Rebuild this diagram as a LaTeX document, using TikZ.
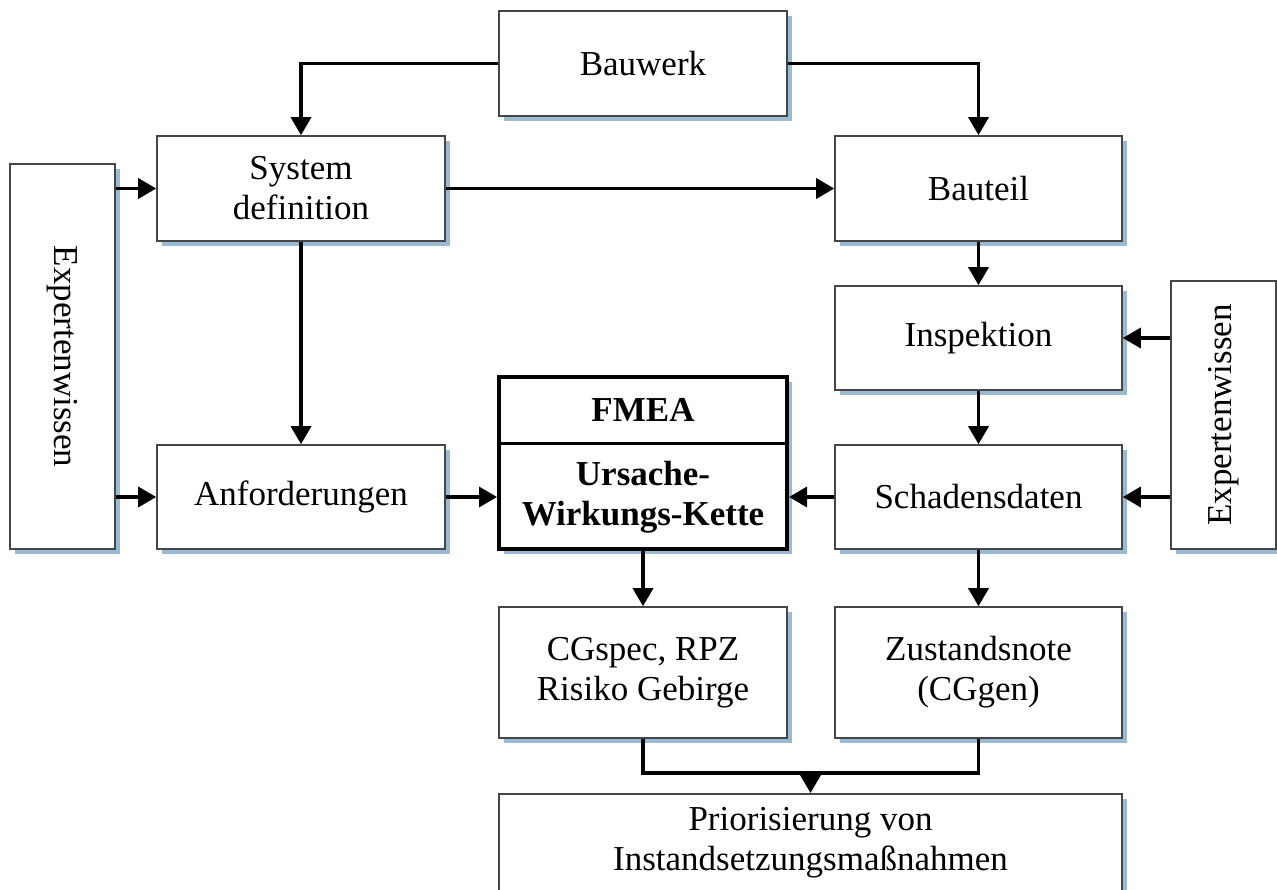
\documentclass[tikz,border=0pt]{standalone}
\usepackage{fontspec}
\setmainfont{Liberation Serif}
\usetikzlibrary{arrows.meta,shadows}
\definecolor{shadowblue}{RGB}{152,186,211}
\definecolor{boxline}{RGB}{70,70,70}
\tikzset{
  shad/.style={drop shadow={shadow xshift=5pt,shadow yshift=-5pt,fill=shadowblue,opacity=1}},
  box/.style={draw=boxline,line width=1.6pt,fill=white,shad,align=center,inner sep=0pt,
    font=\fontsize{35}{40}\selectfont},
  conn/.style={line width=3.5pt,-{Triangle[length=18pt,width=20pt]}},
  plain/.style={line width=3.5pt},
}
\begin{document}
\begin{tikzpicture}[x=1pt,y=-1pt]
\useasboundingbox (0,0) rectangle (1277,890);
\node[box,minimum width=288pt,minimum height=105pt] (bauwerk) at (643,63.5) {Bauwerk};
\node[box,minimum width=288pt,minimum height=105pt] (sysdef) at (301,188.5) {System\\definition};
\node[box,minimum width=287pt,minimum height=105pt] (bauteil) at (978.5,188.5) {Bauteil};
\node[box,minimum width=105pt,minimum height=385pt] (expL) at (62.5,356.5) {};
\node[rotate=-90,font=\fontsize{35}{40}\selectfont] (expLt) at (expL.center) {Expertenwissen};
\node[box,minimum width=287pt,minimum height=104pt] (insp) at (978.5,338) {Inspektion};
\node[box,minimum width=288pt,minimum height=104pt] (anf) at (301,497) {Anforderungen};
\node[box,draw=black,line width=4pt,minimum width=288pt,minimum height=172pt] (fmea) at (643,463) {};
\draw[line width=3pt] (fmea.west |- 0,443) coordinate (dl) -- (fmea.east |- 0,443) coordinate (dr);
\node[font=\bfseries\fontsize{35}{40}\selectfont] (fmeat) at (643,410) {FMEA};
\node[font=\bfseries\fontsize{35}{40}\selectfont,align=center] (uwk) at (643,497) {Ursache-\\Wirkungs-Kette};
\node[box,minimum width=287pt,minimum height=104pt] (schad) at (978.5,497) {Schadensdaten};
\node[box,minimum width=105pt,minimum height=268pt] (expR) at (1223.5,415) {};
\node[rotate=90,font=\fontsize{35}{40}\selectfont] (expRt) at (expR.center) {Expertenwissen};
\node[box,minimum width=288pt,minimum height=131pt] (cg) at (643,672.5) {CGspec, RPZ\\Risiko Gebirge};
\node[box,minimum width=287pt,minimum height=131pt] (zust) at (978.5,672.5) {Zustandsnote\\(CGgen)};
\node[box,minimum width=623pt,minimum height=140pt,anchor=north] (prio) at (810.5,793) {};
\node[font=\fontsize{35}{40}\selectfont,align=center] (priot) at (810.5,843) {Priorisierung von\\Instandsetzungsmaßnahmen};
% connectors
\draw[conn] (bauwerk.west) -| (sysdef.north);
\draw[conn] (bauwerk.east) -| (bauteil.north);
\draw[conn] (sysdef.east) -- (bauteil.west);
\draw[conn] (expL.east |- sysdef.west) -- (sysdef.west);
\draw[conn] (expL.east |- anf.west) -- (anf.west);
\draw[conn] (sysdef.south) -- (anf.north);
\draw[conn] (bauteil.south) -- (insp.north);
\draw[conn] (insp.south) -- (schad.north);
\draw[conn] (expR.west |- insp.east) -- (insp.east);
\draw[conn] (expR.west |- schad.east) -- (schad.east);
\draw[conn] (anf.east) -- (fmea.west |- anf.east);
\draw[conn] (schad.west) -- (fmea.east |- schad.west);
\draw[conn] (fmea.south) -- (cg.north);
\draw[conn] (schad.south) -- (zust.north);
\coordinate (jl) at (643,773);
\coordinate (jr) at (978.5,773);
\coordinate (jm) at (810.5,773);
\draw[plain] (cg.south) -- (jl) -- (jr) -- (zust.south);
\draw[conn] (jm) -- (prio.north);
\end{tikzpicture}
\end{document}
